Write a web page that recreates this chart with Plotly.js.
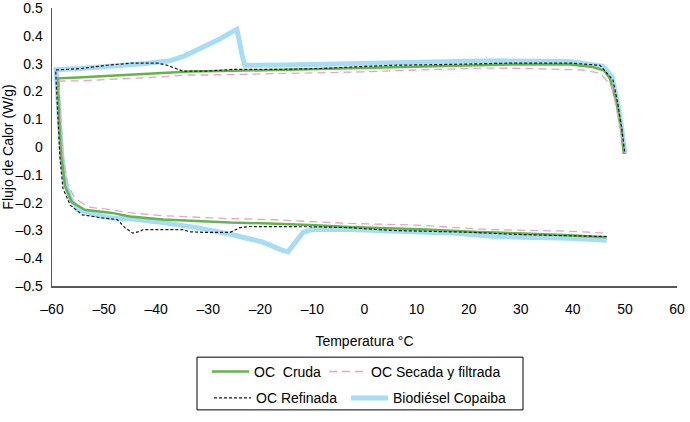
<!DOCTYPE html>
<html>
<head>
<meta charset="utf-8">
<script src="https://cdn.plot.ly/plotly-3.0.1.min.js"></script>
<style>
  html, body { margin: 0; padding: 0; background: #fff; }
  #chart { width: 690px; height: 422px; }
</style>
</head>
<body>
<div id="chart"></div>
<script>
// DSC loops (path: bottom right -> left -> top -> right drop)
var crudaT = [46.5, 39.4, 29.3, 20.8, 12, 4.9, -2.8, -10.5, -18.2, -25.8, -32.2, -38.7, -45, -48.5, -53.7, -56.2, -57.5, -58.2, -58.6, -58.8, -58.8, -55, -47, -41.2, -33.5, -25, -17.6, -8.6, -0.9, 1.6, 10.6, 22.1, 28.5, 39.4, 43.8, 46, 47.1, 48.4, 49.4, 49.8];
var crudaQ = [-0.325, -0.317, -0.31, -0.305, -0.297, -0.293, -0.288, -0.281, -0.275, -0.272, -0.267, -0.261, -0.25, -0.237, -0.226, -0.198, -0.139, -0.033, 0.1, 0.2, 0.247, 0.25, 0.259, 0.265, 0.272, 0.274, 0.277, 0.28, 0.285, 0.286, 0.29, 0.294, 0.297, 0.297, 0.288, 0.275, 0.247, 0.16, 0.055, -0.025];

var secadaT = [45.8, 42, 36.9, 24, 10, -2.8, -10.5, -18.2, -25.8, -32.2, -38.7, -45, -48.5, -53.1, -55.6, -56.9, -57.9, -58.3, -58.6, -58.7, -54.6, -49.4, -47, -41.2, -37.9, -33.5, -29.7, -20.7, -17.6, -8.6, -0.9, 10, 22.7, 30, 39.4, 41.9, 45.2, 47.5, 48.4, 49.4, 50];
var secadaQ = [-0.31, -0.305, -0.302, -0.297, -0.281, -0.275, -0.268, -0.261, -0.258, -0.253, -0.247, -0.237, -0.226, -0.216, -0.184, -0.139, -0.033, 0.1, 0.2, 0.237, 0.238, 0.241, 0.245, 0.25, 0.253, 0.259, 0.259, 0.262, 0.265, 0.268, 0.27, 0.277, 0.284, 0.283, 0.279, 0.277, 0.265, 0.219, 0.135, 0.044, -0.025];

var refinadaT = [46.5, 39.4, 36.2, 28.5, 20.8, 4.9, -2.8, -9.9, -17.6, -22, -23.9, -25.8, -31, -33.5, -34.9, -42.5, -43.1, -44.5, -46, -47.5, -50.4, -54.2, -56.5, -57.9, -58.5, -58.9, -59.2, -59.3, -54.6, -49.4, -44.5, -39.8, -37.9, -34.9, -30.2, -25.3, -17.6, -8.6, -2.2, 5.5, 16.4, 28.5, 39.4, 43.5, 45.2, 47.7, 48.6, 49.4, 50];
var refinadaQ = [-0.322, -0.32, -0.318, -0.314, -0.307, -0.3, -0.29, -0.287, -0.286, -0.286, -0.29, -0.307, -0.307, -0.305, -0.297, -0.297, -0.303, -0.31, -0.29, -0.261, -0.255, -0.244, -0.209, -0.149, -0.033, 0.1, 0.2, 0.277, 0.282, 0.294, 0.302, 0.302, 0.294, 0.273, 0.273, 0.279, 0.279, 0.282, 0.288, 0.294, 0.297, 0.302, 0.302, 0.298, 0.294, 0.241, 0.16, 0.065, -0.025];

var biodieselT = [46.5, 39.4, 30.4, 24, 17.7, 4.9, -2.8, -6.6, -10.1, -11.8, -13.5, -14.7, -16, -19.5, -25.8, -32.2, -38.7, -45, -48.5, -51.7, -55, -56.5, -57.5, -58.1, -58.6, -58.9, -59.2, -54, -48, -42, -37.4, -34.5, -31, -27.8, -25.3, -24.5, -23.5, -23, -15, -2.2, 5, 15, 25, 39.4, 42.5, 45.8, 47.5, 48.6, 49.4, 50];
var biodieselQ = [-0.335, -0.328, -0.325, -0.32, -0.31, -0.3, -0.297, -0.297, -0.297, -0.307, -0.345, -0.377, -0.37, -0.342, -0.314, -0.29, -0.272, -0.258, -0.255, -0.244, -0.226, -0.184, -0.128, -0.033, 0.1, 0.2, 0.278, 0.283, 0.29, 0.3, 0.31, 0.328, 0.36, 0.388, 0.416, 0.423, 0.33, 0.294, 0.295, 0.3, 0.302, 0.308, 0.31, 0.308, 0.3, 0.29, 0.254, 0.16, 0.065, -0.025];

var xTicks = [-60, -50, -40, -30, -20, -10, 0, 10, 20, 30, 40, 50, 60];
var xTickText = ['\u201360', '\u201350', '\u201340', '\u201330', '\u201320', '\u201310', '0', '10', '20', '30', '40', '50', '60'];
var yTicks = [-0.5, -0.4, -0.3, -0.2, -0.1, 0, 0.1, 0.2, 0.3, 0.4, 0.5];
var yTickText = ['\u20130.5', '\u20130.4', '\u20130.3', '\u20130.2', '\u20130.1', '0', '0.1', '0.2', '0.3', '0.4', '0.5'];

var fontFam = '"Liberation Sans", Arial, sans-serif';
var txt = {family: fontFam, size: 14, color: '#000'};

// drawn order: blue under, then green, pink, black on top
// each entry gets its own legend so the 2x2 box can be placed by hand
var data = [
    {
        x: biodieselT, y: biodieselQ, name: 'Biodiésel Copaiba',
        type: 'scatter', mode: 'lines', legend: 'legend4',
        line: {color: '#a6dcf6', width: 5}
    },
    {
        x: crudaT, y: crudaQ, name: 'OC\u00a0 Cruda',
        type: 'scatter', mode: 'lines', legend: 'legend',
        line: {color: '#62b649', width: 2.5}
    },
    {
        x: secadaT, y: secadaQ, name: 'OC Secada y filtrada',
        type: 'scatter', mode: 'lines', legend: 'legend2',
        line: {color: '#e8a3c8', width: 1.3, dash: '8px,5px'}
    },
    {
        x: refinadaT, y: refinadaQ, name: 'OC Refinada',
        type: 'scatter', mode: 'lines', legend: 'legend3',
        line: {color: '#1a1a1a', width: 1.2, dash: '3px,2px'}
    }
];

function legendAt(x, y) {
    return {
        orientation: 'h',
        x: x,
        y: y,
        xanchor: 'left',
        yanchor: 'middle',
        itemwidth: 37,
        bgcolor: 'rgba(0,0,0,0)',
        borderwidth: 0,
        font: txt
    };
}

var layout = {
    width: 690,
    height: 422,
    margin: {l: 52, r: 13, t: 8, b: 129},
    paper_bgcolor: '#fff',
    plot_bgcolor: '#fff',
    font: txt,
    showlegend: true,
    legend: legendAt(0.248, -0.309),
    legend2: legendAt(0.4352, -0.309),
    legend3: legendAt(0.2512, -0.404),
    legend4: legendAt(0.4704, -0.404),
    xaxis: {
        range: [-60, 60],
        tickvals: xTicks,
        ticktext: xTickText,
        ticks: '',
        ticklabelstandoff: 10,
        ticklabeloverflow: 'allow',
        showgrid: false,
        zeroline: false,
        showline: true,
        linecolor: '#595959',
        linewidth: 1.5,
        automargin: false,
        tickfont: txt,
        title: {text: 'Temperatura °C', standoff: 20, font: txt}
    },
    yaxis: {
        range: [-0.5, 0.5],
        tickvals: yTicks,
        ticktext: yTickText,
        ticks: '',
        ticklabelstandoff: 5,
        ticklabeloverflow: 'allow',
        showgrid: false,
        zeroline: false,
        showline: true,
        linecolor: '#595959',
        linewidth: 1.5,
        automargin: false,
        tickfont: txt,
        title: {text: 'Flujo de Calor (W/g)', standoff: 3, font: txt}
    },
    shapes: [
        {
            type: 'rect', xref: 'paper', yref: 'paper',
            x0: 0.232, x1: 0.7536, y0: -0.256, y1: -0.4456,
            line: {color: '#000', width: 1}, fillcolor: 'rgba(0,0,0,0)'
        }
    ]
};

var config = {
    responsive: false,
    displayModeBar: false,
    staticPlot: true
};

Plotly.newPlot('chart', data, layout, config);
</script>
</body>
</html>
